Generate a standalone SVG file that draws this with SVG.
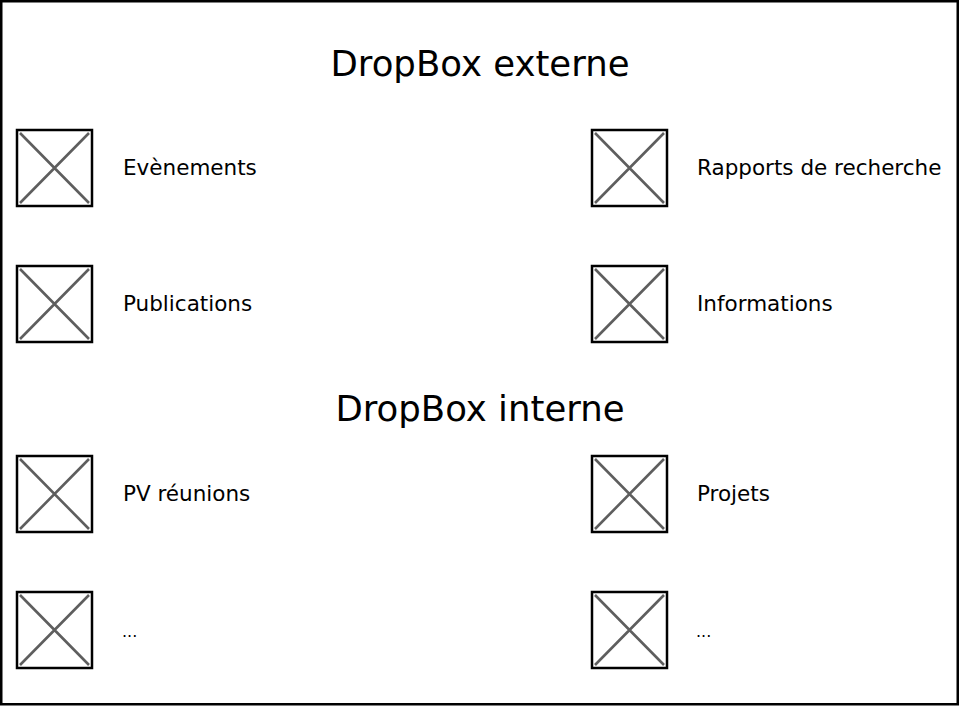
<svg xmlns="http://www.w3.org/2000/svg" width="960" height="707" viewBox="0 0 960 707">
<style>
.frame{fill:#fff;stroke:#000;stroke-width:2.5}
.box{fill:#fff;stroke:#000;stroke-width:2.5}
.x{stroke:#5e5e5e;stroke-width:2.6;fill:none}
.title{font-family:"DejaVu Sans",sans-serif;font-size:35.5px;fill:#000;text-anchor:middle}
.lbl{font-family:"DejaVu Sans",sans-serif;font-size:21.5px;fill:#000}
.dots{font-family:"DejaVu Sans",sans-serif;font-size:16px;fill:#000}
</style>
<defs>
<g id="ph">
<rect class="box" x="0" y="0" width="75" height="76"/>
<path class="x" d="M3 3 L72 73 M72 3 L3 73"/>
</g>
</defs>
<rect class="frame" x="1.25" y="1.25" width="956.5" height="703"/>
<g id="title-externe"><text class="title" x="480" y="76">DropBox externe</text></g>
<g id="node-evenements"><use href="#ph" x="17" y="130"/><text class="lbl" x="123" y="175">Evènements</text></g>
<g id="node-rapports"><use href="#ph" x="592" y="130"/><text class="lbl" x="697" y="175">Rapports de recherche</text></g>
<g id="node-publications"><use href="#ph" x="17" y="266"/><text class="lbl" x="123" y="311">Publications</text></g>
<g id="node-informations"><use href="#ph" x="592" y="266"/><text class="lbl" x="697" y="311">Informations</text></g>
<g id="title-interne"><text class="title" x="480" y="421">DropBox interne</text></g>
<g id="node-pv"><use href="#ph" x="17" y="456"/><text class="lbl" x="123" y="501">PV réunions</text></g>
<g id="node-projets"><use href="#ph" x="592" y="456"/><text class="lbl" x="697" y="501">Projets</text></g>
<g id="node-etc1"><use href="#ph" x="17" y="592"/><text class="dots" x="122" y="637">...</text></g>
<g id="node-etc2"><use href="#ph" x="592" y="592"/><text class="dots" x="696" y="637">...</text></g>
<g id="connectors"></g>
</svg>
